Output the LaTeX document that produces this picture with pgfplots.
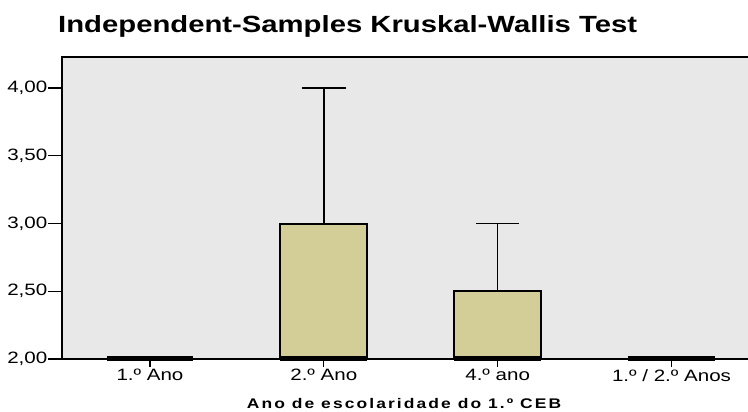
\documentclass[border=0pt]{standalone}
\usepackage{fontspec}
\setmainfont{Liberation Sans}[FakeStretch=1.25]
\newfontfamily\xlabfont{Liberation Sans}[FakeStretch=1.25, LetterSpace=15]
\usepackage{pgfplots}
\pgfplotsset{compat=1.18}
\usepgfplotslibrary{statistics}
\definecolor{bgGray}{HTML}{E8E8E8}
\definecolor{boxFill}{HTML}{D3CE98}

\begin{document}
\begin{tikzpicture}
\useasboundingbox (0,0) rectangle (748bp,412bp);
\begin{axis}[
  at={(62bp,53bp)}, anchor=south west,
  scale only axis, width=686bp, height=302bp,
  xmin=-0.506, xmax=3.44, ymin=2, ymax=4.229,
  clip=false,
  axis background/.style={fill=bgGray},
  axis line style={draw=none},
  tick align=outside, tick pos=left,
  every tick/.style={black, line width=1.3bp},
  xtick={0,1,2,3},
  xticklabels={1.º Ano, 2.º Ano, 4.º ano, 1.º / 2.º Anos},
  xtick style={/pgfplots/major tick length=8bp},
  ytick={2,2.5,3,3.5,4},
  ytick style={/pgfplots/major tick length=14bp},
  ticklabel style={font=\fontsize{16.5}{18}\selectfont},
  yticklabel style={inner xsep=0.5bp, xshift=-9.75bp},
  xticklabel style={inner ysep=2bp, yshift=-4bp},
  /pgf/number format/.cd, fixed, fixed zerofill, precision=2, use comma,
    assume math mode=true,
  /pgfplots/.cd,
  boxplot/draw direction=y,
  boxplot/box extend=0.5,
  boxplot/whisker extend=0.25,
  boxplot/every whisker/.style={line width=1.5bp},
  boxplot/every box/.style={line width=2bp, fill=boxFill},
  boxplot/every median/.style={line width=5bp},
]
% 1.º Ano
\addplot[draw=black, boxplot prepared={draw position=0,
  lower whisker=2, lower quartile=2, median=2,
  upper quartile=2, upper whisker=2,
  every median/.style={line width=5bp}}] coordinates {};
% 2.º Ano
\addplot[draw=black, boxplot prepared={draw position=1,
  lower whisker=2, lower quartile=2, median=2,
  upper quartile=3, upper whisker=4,
  every median/.style={line width=5bp}}] coordinates {};
% 4.º ano
\addplot[draw=black, boxplot prepared={draw position=2,
  lower whisker=2, lower quartile=2, median=2,
  upper quartile=2.5, upper whisker=3,
  every median/.style={line width=5bp}}] coordinates {};
% 1.º / 2.º Anos
\addplot[draw=black, boxplot prepared={draw position=3,
  lower whisker=2, lower quartile=2, median=2,
  upper quartile=2, upper whisker=2,
  every median/.style={line width=5bp}}] coordinates {};
\draw[line width=1.5bp] (rel axis cs:1,1) -- (rel axis cs:0,1);
\draw[line width=1.5bp] (rel axis cs:0,0) -- (rel axis cs:1,0);
\draw[line width=2bp] (rel axis cs:0,-0.003) -- (rel axis cs:0,1.003);
\end{axis}
\node[anchor=base west, inner sep=0, font=\fontsize{23.5}{26}\selectfont\bfseries]
  at (58bp,379bp) {Independent-Samples Kruskal-Wallis Test};
\node[anchor=base, inner sep=0, font=\xlabfont\fontsize{14}{16}\selectfont\bfseries]
  at (404bp,4bp) {Ano de escolaridade do 1.º CEB};
\end{tikzpicture}
\end{document}
